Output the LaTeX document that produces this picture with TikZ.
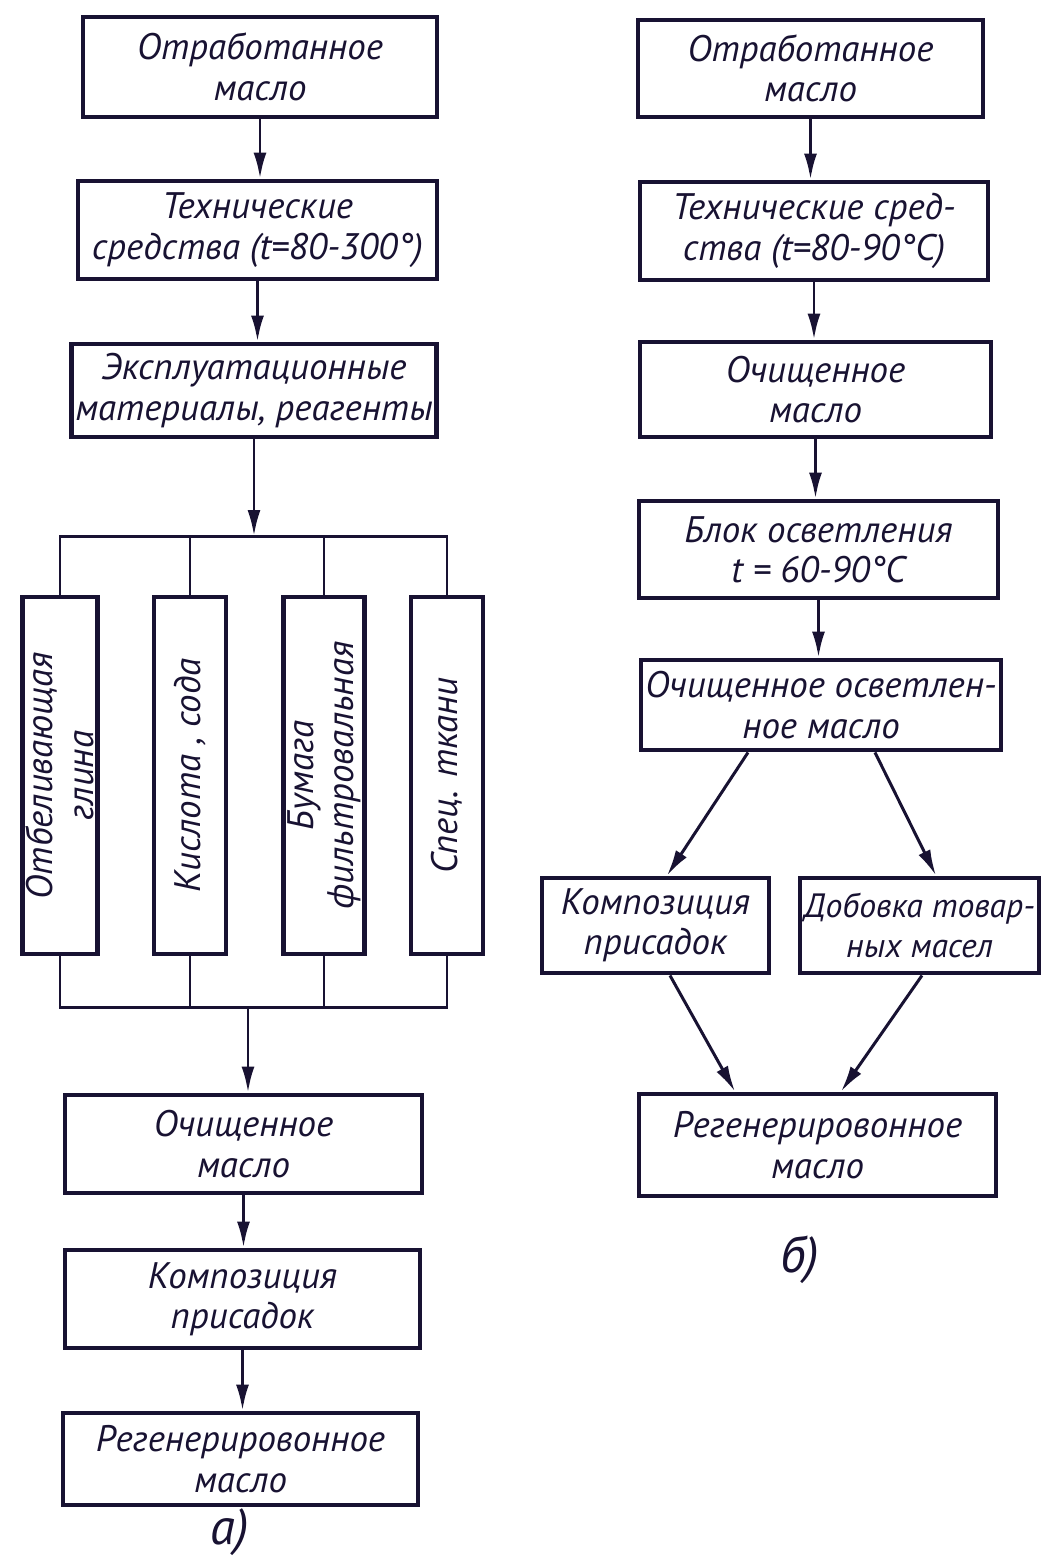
\documentclass[tikz,border=0pt]{standalone}
\usepackage{fontspec}
\setmainfont{PT Sans}
\usetikzlibrary{arrows.meta}
\definecolor{tinte}{RGB}{24,18,50}
\tikzset{
  block/.style={draw=tinte, line width=1.4pt, align=center, inner sep=1pt, text=tinte,
    font=\itshape\fontsize{10.5}{11.5}\selectfont},
  vblock/.style={block, rotate=90, minimum width=3.57cm, minimum height=0.72cm},
  pfeil/.style={draw=tinte, line width=0.85pt, -{Latex[length=2.6mm,width=1.3mm]}},
  linie/.style={draw=tinte, line width=0.85pt},
}
\begin{document}
\begin{tikzpicture}
      \useasboundingbox[fill=white] (0,0) rectangle (10.62,-15.63);

      % Schema a)
      \node[block, minimum width=3.54cm, minimum height=1.00cm] (La) at (2.60,-0.67) {Отработанное\\масло};
      \node[block, minimum width=3.59cm, minimum height=0.98cm] (Lb) at (2.575,-2.30) {Технические\\средства (t=80-300°)};
      \node[block, minimum width=3.62cm, minimum height=0.93cm] (Lc) at (2.54,-3.905) {Эксплуатационные\\материалы, реагенты};
      \coordinate (oben) at (2.54,-5.36);
      \coordinate (unten) at (2.48,-10.07);
      \node[vblock] (V1) at (0.60,-7.755) {Отбеливающая\\глина};
      \node[vblock] (V2) at (1.90,-7.755) {Кислота , сода};
      \node[vblock] (V3) at (3.24,-7.755) {Бумага\\фильтровальная};
      \node[vblock] (V4) at (4.47,-7.755) {Спец. ткани};
      \node[block, minimum width=3.57cm, minimum height=0.98cm] (Ld) at (2.435,-11.44) {Очищенное\\масло};
      \node[block, minimum width=3.55cm, minimum height=0.98cm] (Le) at (2.425,-12.99) {Композиция\\присадок};
      \node[block, minimum width=3.55cm, minimum height=0.92cm] (Lf) at (2.405,-14.59) {Регенерировонное\\масло};
      \node[font=\Large\itshape, text=tinte, inner sep=0pt] (la) at (2.30,-15.32) {а)};

      \draw[pfeil] (La.south) -- (La.south |- Lb.north);
      \draw[pfeil] (Lb.south) -- (Lb.south |- Lc.north);
      \draw[pfeil] (Lc.south) -- (Lc.south |- oben);
      \draw[linie] (V1.east) -- (V1.east |- oben) -- (V4.east |- oben) -- (V4.east);
      \draw[linie] (V2.east) -- (V2.east |- oben);
      \draw[linie] (V3.east) -- (V3.east |- oben);
      \draw[linie] (V1.west) -- (V1.west |- unten) -- (V4.west |- unten) -- (V4.west);
      \draw[linie] (V2.west) -- (V2.west |- unten);
      \draw[linie] (V3.west) -- (V3.west |- unten);
      \draw[pfeil] (unten) -- (unten |- Ld.north);
      \draw[pfeil] (Ld.south) -- (Ld.south |- Le.north);
      \draw[pfeil] (Le.south) -- (Le.south |- Lf.north);

      % Schema b)
      \node[block, minimum width=3.45cm, minimum height=0.97cm] (Ra) at (8.105,-0.685) {Отработанное\\масло};
      \node[block, minimum width=3.48cm, minimum height=0.98cm] (Rb) at (8.14,-2.31) {Технические сред-\\ства (t=80-90°C)};
      \node[block, minimum width=3.51cm, minimum height=0.95cm] (Rc) at (8.155,-3.895) {Очищенное\\масло};
      \node[block, minimum width=3.59cm, minimum height=0.97cm] (Rd) at (8.185,-5.495) {Блок осветления\\t = 60-90°C};
      \node[block, minimum width=3.60cm, minimum height=0.90cm] (Re) at (8.21,-7.05) {Очищенное осветлен-\\ное масло};
      \node[block, minimum width=2.27cm, minimum height=0.95cm] (Rk) at (6.555,-9.255) {Композиция\\присадок};
      \node[block, minimum width=2.39cm, minimum height=0.95cm, font=\itshape\fontsize{9.6}{11.5}\selectfont] (Rz) at (9.195,-9.255) {Добовка товар-\\ных масел};
      \node[block, minimum width=3.57cm, minimum height=1.02cm] (Rf) at (8.175,-11.45) {Регенерировонное\\масло};
      \node[font=\Large\itshape, text=tinte] (lb) at (8.00,-12.60) {б)};

      \draw[pfeil] (Ra.south) -- (Ra.south |- Rb.north);
      \draw[pfeil] (Rb.south) -- (Rb.south |- Rc.north);
      \draw[pfeil] (Rc.south) -- (Rc.south |- Rd.north);
      \draw[pfeil] (Rd.south) -- (Rd.south |- Re.north);
      \draw[pfeil] ([xshift=-0.73cm]Re.south) -- ([xshift=0.115cm]Rk.north);
      \draw[pfeil] ([xshift=0.54cm]Re.south) -- ([xshift=0.165cm]Rz.north);
      \draw[pfeil] ([xshift=0.145cm]Rk.south) -- ([xshift=-0.825cm]Rf.north);
      \draw[pfeil] ([xshift=0.025cm]Rz.south) -- ([xshift=0.235cm]Rf.north);
\end{tikzpicture}
\end{document}
